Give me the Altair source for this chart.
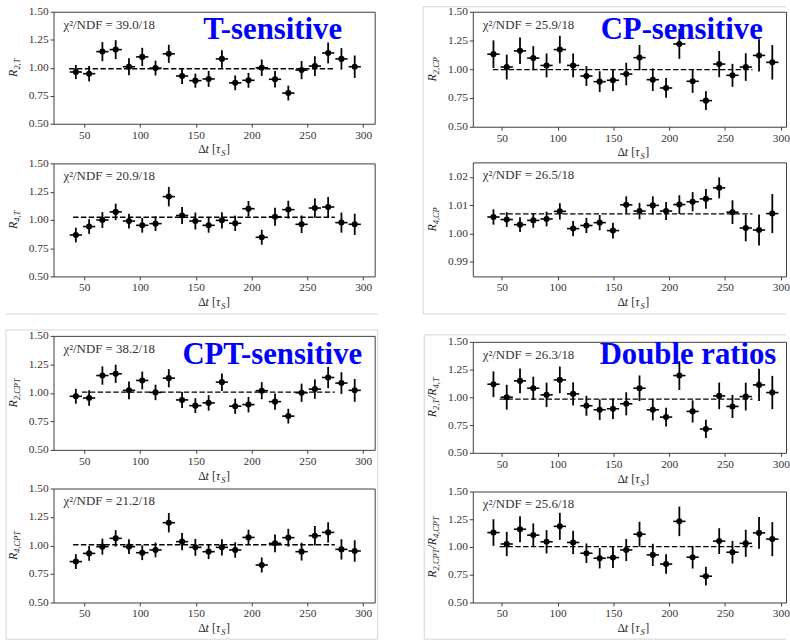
import altair as alt
import pandas as pd

# Bin centres of the decay-time difference (in units of tau_S)
DT = [42.5, 54.4, 66.3, 78.2, 90.1, 102.0, 113.9, 125.8, 137.7, 149.6, 161.5,
      173.4, 185.3, 197.2, 209.1, 221.0, 232.9, 244.8, 256.7, 268.6, 280.5, 292.4]
HALF_BIN = 5.5
FIT_END = 274.6

X_TICKS = [50, 100, 150, 200, 250, 300]
R_TICKS = [0.50, 0.75, 1.00, 1.25, 1.50]
CP4_TICKS = [0.99, 1.00, 1.01, 1.02]

# T-sensitive ratios
R2_T = [0.962, 0.947, 1.144, 1.162, 1.009, 1.097, 0.997, 1.124, 0.926, 0.885, 0.900,
        1.079, 0.865, 0.888, 1.000, 0.897, 0.774, 0.979, 1.015, 1.132, 1.079, 1.009]
R2_T_ERR = [0.063, 0.069, 0.085, 0.084, 0.076, 0.081, 0.066, 0.081, 0.071, 0.063, 0.071,
            0.078, 0.066, 0.066, 0.074, 0.074, 0.066, 0.081, 0.088, 0.093, 0.096, 0.100]
R4_T = [0.866, 0.941, 0.999, 1.071, 0.990, 0.952, 0.967, 1.206, 1.039, 0.990, 0.952,
        0.996, 0.970, 1.099, 0.846, 1.028, 1.091, 0.961, 1.105, 1.114, 0.976, 0.961]
R4_T_ERR = [0.065, 0.065, 0.070, 0.073, 0.065, 0.065, 0.065, 0.086, 0.076, 0.075, 0.065,
            0.072, 0.068, 0.068, 0.066, 0.079, 0.079, 0.078, 0.085, 0.089, 0.089, 0.094]

# CP-sensitive ratios
R2_CP = [1.131, 1.019, 1.160, 1.097, 1.033, 1.171, 1.033, 0.941, 0.892, 0.904, 0.958,
         1.101, 0.909, 0.837, 1.220, 0.895, 0.727, 1.045, 0.947, 1.019, 1.120, 1.060]
R2_CP_ERR = [0.120, 0.108, 0.115, 0.104, 0.104, 0.120, 0.104, 0.086, 0.090, 0.094, 0.098,
             0.110, 0.098, 0.086, 0.130, 0.100, 0.082, 0.114, 0.100, 0.120, 0.140, 0.150]
R4_CP = [1.0058, 1.0049, 1.0031, 1.0046, 1.0051, 1.0078, 1.0017, 1.0028, 1.0038, 1.0010, 1.0101,
         1.0079, 1.0099, 1.0079, 1.0102, 1.0112, 1.0122, 1.0161, 1.0075, 1.0019, 1.0012, 1.0070]
R4_CP_ERR = [0.0027, 0.0026, 0.0026, 0.0026, 0.0026, 0.0029, 0.0027, 0.0027, 0.0027, 0.0028, 0.0030,
             0.0029, 0.0032, 0.0032, 0.0033, 0.0034, 0.0035, 0.0037, 0.0042, 0.0047, 0.0055, 0.0069]

# CPT-sensitive ratios
R2_CPT = [0.970, 0.955, 1.152, 1.167, 1.022, 1.109, 1.004, 1.129, 0.938, 0.888, 0.912,
          1.094, 0.883, 0.897, 1.019, 0.923, 0.796, 1.001, 1.033, 1.135, 1.086, 1.022]
R2_CPT_ERR = [0.065, 0.068, 0.080, 0.080, 0.077, 0.078, 0.068, 0.080, 0.070, 0.065, 0.068,
              0.077, 0.067, 0.068, 0.075, 0.072, 0.065, 0.080, 0.085, 0.093, 0.095, 0.100]
R4_CPT = [0.859, 0.931, 0.990, 1.063, 0.990, 0.937, 0.961, 1.200, 1.034, 0.984, 0.946,
          0.984, 0.961, 1.071, 0.829, 1.019, 1.069, 0.946, 1.086, 1.115, 0.966, 0.952]
R4_CPT_ERR = [0.065, 0.065, 0.070, 0.072, 0.065, 0.065, 0.065, 0.085, 0.075, 0.074, 0.065,
              0.072, 0.068, 0.068, 0.066, 0.078, 0.078, 0.078, 0.085, 0.089, 0.089, 0.094]

# Double ratios
DR_T = [1.118, 1.001, 1.148, 1.082, 1.022, 1.157, 1.031, 0.924, 0.888, 0.897, 0.942,
        1.082, 0.888, 0.822, 1.196, 0.873, 0.715, 1.013, 0.918, 1.007, 1.112, 1.043]
DR_T_ERR = [0.116, 0.112, 0.112, 0.104, 0.110, 0.120, 0.104, 0.090, 0.093, 0.093, 0.104,
            0.115, 0.096, 0.085, 0.130, 0.100, 0.082, 0.120, 0.104, 0.125, 0.146, 0.150]
DR_CPT = [1.130, 1.027, 1.160, 1.107, 1.047, 1.186, 1.041, 0.944, 0.899, 0.905, 0.973,
          1.115, 0.929, 0.846, 1.231, 0.908, 0.737, 1.053, 0.953, 1.033, 1.127, 1.071]
DR_CPT_ERR = [0.120, 0.110, 0.118, 0.106, 0.105, 0.122, 0.105, 0.088, 0.092, 0.095, 0.100,
              0.112, 0.100, 0.088, 0.133, 0.102, 0.084, 0.116, 0.102, 0.122, 0.143, 0.153]

# Constant fits: level and start of the fitted range
FITS = {
    "R2_T": (0.991, 36.5), "R4_T": (1.024, 40.0),
    "R2_CP": (0.997, 42.0), "R4_CP": (1.0069, 48.0),
    "R2_CPT": (1.007, 48.0), "R4_CPT": (1.007, 40.0),
    "DR_T": (0.984, 48.0), "DR_CPT": (1.003, 48.0),
}
CHI2 = {
    "R2_T": "39.0/18", "R4_T": "20.9/18", "R2_CP": "25.9/18", "R4_CP": "26.5/18",
    "R2_CPT": "38.2/18", "R4_CPT": "21.2/18", "DR_T": "26.3/18", "DR_CPT": "25.6/18",
}

SERIF = "Liberation Serif"
INK = "#262626"
EDGE = "#3c3c3c"
BOX = "#d4d4d4"
BLUE = "#0000ff"

EM = {"R": 0.611, "T": 0.556, "C": 0.667, "P": 0.611, "S": 0.5, "2": 0.5, "4": 0.5,
      ",": 0.25, "/": 0.278, "t": 0.278, "τ": 0.44, "Δ": 0.612, "[": 0.333, "]": 0.333}
BASE_SIZE = 12
SUB_SIZE = 8.5

ONE = alt.Data(values=[{"k": 0}])


def text_width(s, size):
    return sum(EM.get(c, 0.5) for c in s) * size


def rich_text(segments, x, y, angle=None):
    """Centred run of text pieces: (text, italic, subscript, gap before in em)."""
    pieces = []
    total = 0.0
    for t, italic, sub, gap in segments:
        s = SUB_SIZE if sub else BASE_SIZE
        total += gap * BASE_SIZE
        pieces.append((t, italic, sub, s, total))
        total += text_width(t, s)
    layers = []
    for t, italic, sub, s, start in pieces:
        kw = dict(text=t, font=SERIF, fontSize=s, fontStyle="italic" if italic else "normal",
                  align="left", baseline="alphabetic", dx=start - total / 2,
                  dy=3 if sub else 0, color=INK)
        if angle is not None:
            kw["angle"] = angle
        layers.append(alt.Chart(ONE).mark_text(**kw).encode(x=alt.value(x), y=alt.value(y)))
    return layers


X_TITLE = [("Δ", False, False, 0), ("t", True, False, 0), ("[", False, False, 0.28),
           ("τ", True, False, 0), ("S", True, True, 0), ("]", False, False, 0.05)]


def ratio_title(*parts):
    segs = []
    for i, sub in enumerate(parts):
        segs.append(("R" if i == 0 else "/R", True, False, 0))
        segs.append((sub, True, True, 0))
    return segs


def hline(x0, x1, y, opacity=1):
    return alt.Chart(ONE).mark_rule(color=BOX, strokeWidth=1, opacity=opacity).encode(
        x=alt.value(x0), x2=alt.value(x1), y=alt.value(y))


def vline(x, y0, y1):
    return alt.Chart(ONE).mark_rule(color=BOX, strokeWidth=1).encode(
        x=alt.value(x), y=alt.value(y0), y2=alt.value(y1))


def spacer(width, height):
    return alt.Chart(ONE).mark_rule(opacity=0).encode(
        x=alt.value(0), y=alt.value(0), y2=alt.value(1)
    ).properties(width=width, height=height, view=alt.ViewBackground(strokeOpacity=0))


def panel(key, vals, errs, width, height, xdom, ydom=(0.5, 1.5), yticks=R_TICKS,
          ytitle=None, label=None, label_x=0, label_y=0, extras=()):
    df = pd.DataFrame({"dt": DT, "val": vals, "err": errs})
    df["dt_lo"] = df["dt"] - HALF_BIN
    df["dt_hi"] = df["dt"] + HALF_BIN
    df["lo"] = df["val"] - df["err"]
    df["hi"] = df["val"] + df["err"]
    level, start = FITS[key]
    fit_df = pd.DataFrame({"x0": [start], "x1": [FIT_END], "level": [level]})

    xs = alt.Scale(domain=list(xdom), nice=False, zero=False)
    ys = alt.Scale(domain=list(ydom), nice=False, zero=False)
    xax = alt.Axis(values=X_TICKS, title=None, grid=False, domain=False, tickSize=3.5,
                   labelPadding=2, labelFlush=False)
    yax = alt.Axis(values=yticks, format=".2f", title=None, grid=False, domain=False,
                   tickSize=3.5, labelPadding=2)

    base = alt.Chart(df)
    fit = alt.Chart(fit_df).mark_rule(color="black", strokeWidth=1.4, strokeDash=[5.5, 2.4]).encode(
        x=alt.X("x0:Q", scale=xs, axis=xax), x2="x1:Q",
        y=alt.Y("level:Q", scale=ys, axis=yax))
    hbar = base.mark_rule(color="black", strokeWidth=1.6).encode(
        x=alt.X("dt_lo:Q", scale=xs, axis=xax), x2="dt_hi:Q",
        y=alt.Y("val:Q", scale=ys, axis=yax))
    vbar = base.mark_rule(color="black", strokeWidth=1.8).encode(
        x=alt.X("dt:Q", scale=xs, axis=xax),
        y=alt.Y("lo:Q", scale=ys, axis=yax), y2="hi:Q")
    dots = base.mark_circle(color="black", size=38, opacity=1).encode(
        x=alt.X("dt:Q", scale=xs, axis=xax),
        y=alt.Y("val:Q", scale=ys, axis=yax))
    chi = alt.Chart(ONE).mark_text(
        text="χ²/NDF = " + CHI2[key], font=SERIF, fontSize=13, align="left",
        baseline="middle", color="#333333").encode(x=alt.value(10), y=alt.value(13))

    layers = [fit, hbar, vbar, dots, chi]
    layers += rich_text(ytitle, -37, height / 2, angle=270)
    layers += rich_text(X_TITLE, 162, height + 30)
    if label:
        layers.append(alt.Chart(ONE).mark_text(
            text=label, font=SERIF, fontSize=31, fontWeight="bold", color=BLUE,
            align="left", baseline="alphabetic").encode(x=alt.value(label_x), y=alt.value(label_y)))
    layers += list(extras)
    return alt.layer(*layers).properties(width=width, height=height)


LEFT_W, RIGHT_W = 324, 316
LEFT_X = (22.5, 310.3)
RIGHT_X = (24.0, 304.7)

tl1 = panel("R2_T", R2_T, R2_T_ERR, LEFT_W, 113, LEFT_X, ytitle=ratio_title("2,T"),
            label="T-sensitive", label_x=151, label_y=28,
            extras=[hline(-48, 300, -5, opacity=0)])
tl2 = panel("R4_T", R4_T, R4_T_ERR, LEFT_W, 114, LEFT_X, ytitle=ratio_title("4,T"),
            extras=[hline(-48, 327, 152)])
bl1 = panel("R2_CPT", R2_CPT, R2_CPT_ERR, LEFT_W, 115, LEFT_X, ytitle=ratio_title("2,CPT"),
            label="CPT-sensitive", label_x=130, label_y=28,
            extras=[hline(-48, 327, -6), hline(-48, 327, 306), vline(-48, -6, 306), vline(327, -6, 306)])
bl2 = panel("R4_CPT", R4_CPT, R4_CPT_ERR, LEFT_W, 115, LEFT_X, ytitle=ratio_title("4,CPT"))

tr1 = panel("R2_CP", R2_CP, R2_CP_ERR, RIGHT_W, 116, RIGHT_X, ytitle=ratio_title("2,CP"),
            label="CP-sensitive", label_x=129, label_y=28,
            extras=[hline(-50, 316, -5), hline(-50, 316, 305), vline(-50, -5, 305)])
tr2 = panel("R4_CP", R4_CP, R4_CP_ERR, RIGHT_W, 115, RIGHT_X, ydom=(0.9848, 1.0251),
            yticks=CP4_TICKS, ytitle=ratio_title("4,CP"))
br1 = panel("DR_T", DR_T, DR_T_ERR, RIGHT_W, 112, RIGHT_X, ytitle=ratio_title("2,T", "4,T"),
            label="Double ratios", label_x=128, label_y=22,
            extras=[hline(-49, 316, -7), hline(-49, 316, 300), vline(-49, -7, 300)])
br2 = panel("DR_CPT", DR_CPT, DR_CPT_ERR, RIGHT_W, 112, RIGHT_X,
            ytitle=ratio_title("2,CPT", "4,CPT"))

# Each column is a flat stack; gaps between plot frames come from spacer rows
left = alt.vconcat(tl1, spacer(LEFT_W, 40), tl2, spacer(LEFT_W, 60), bl1,
                   spacer(LEFT_W, 39), bl2, spacing=0, bounds="flush")
right = alt.vconcat(tr1, spacer(RIGHT_W, 36), tr2, spacer(RIGHT_W, 66), br1,
                    spacer(RIGHT_W, 39), br2, spacing=0, bounds="flush")

chart = alt.hconcat(left, right, spacing=44).properties(
    padding={"left": 5, "top": 2, "right": 0, "bottom": 0}, background="white"
).configure_view(
    stroke=EDGE, strokeWidth=1
).configure_axis(
    labelFont=SERIF, labelFontSize=11.5, labelColor="#333333", tickColor=EDGE, tickWidth=1
)

chart.save("out.html", embed_options={"renderer": "svg", "actions": False})
